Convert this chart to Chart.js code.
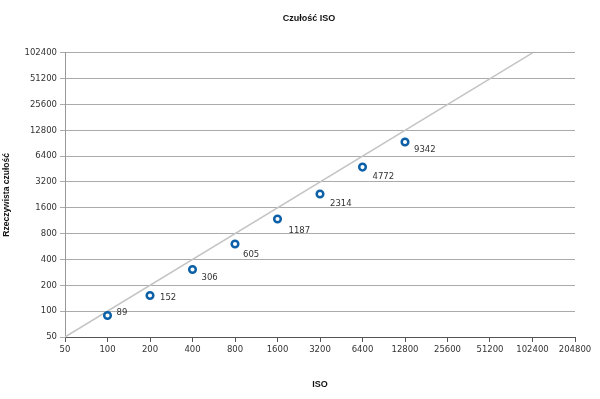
<!DOCTYPE html>
<html>
<head>
<meta charset="utf-8">
<script src="https://cdn.jsdelivr.net/npm/chart.js@4"></script>
<style>
html,body{margin:0;padding:0;background:#fff;}
#wrap{width:600px;height:399px;position:relative;}
</style>
</head>
<body>
<div id="wrap"><canvas id="c" width="600" height="399"></canvas></div>
<script>
const isoValues = [100, 200, 400, 800, 1600, 3200, 6400, 12800];
const realValues = [89, 152, 306, 605, 1187, 2314, 4772, 9342];
const xTicks = [50, 100, 200, 400, 800, 1600, 3200, 6400, 12800, 25600, 51200, 102400, 204800];
const yTicks = [50, 100, 200, 400, 800, 1600, 3200, 6400, 12800, 25600, 51200, 102400];
const refLine = [50, 102400];

const chartTitle = 'Czułość ISO';
const xTitle = 'ISO';
const yTitle = 'Rzeczywista czułość';

const FONT = 'DejaVu Sans';
const TFONT = 'Liberation Sans';

const labelPlugin = {
  id: 'pointLabels',
  afterDatasetsDraw(chart, args, opts) {
    const meta = chart.getDatasetMeta(1);
    const ctx = chart.ctx;
    ctx.save();
    ctx.font = '8.5px "' + FONT + '"';
    ctx.fillStyle = '#333333';
    ctx.textAlign = 'left';
    ctx.textBaseline = 'middle';
    meta.data.forEach((el, i) => {
      const off = opts.offsets[i] || [9, 9];
      ctx.fillText(String(realValues[i]), el.x + off[0], el.y + off[1]);
    });
    ctx.restore();
  }
};

const titleShift = {
  id: 'titleShift',
  afterLayout(chart, args, opts) {
    if (chart.titleBlock) {
      chart.titleBlock.left += opts.shift;
      chart.titleBlock.right += opts.shift;
    }
  }
};

new Chart(document.getElementById('c'), {
  type: 'scatter',
  data: {
    datasets: [
      {
        data: refLine.map(v => ({x: v, y: v})),
        showLine: true,
        borderColor: '#c4c4c4',
        borderWidth: 1.5,
        pointRadius: 0,
        order: 2
      },
      {
        data: isoValues.map((v, i) => ({x: v, y: realValues[i]})),
        showLine: false,
        pointRadius: 3.3,
        pointBorderWidth: 2.5,
        pointBorderColor: '#0b60a8',
        pointBackgroundColor: '#ffffff',
        order: 1
      }
    ]
  },
  options: {
    responsive: false,
    animation: false,
    devicePixelRatio: 1,
    layout: {padding: {left: 0, right: 0, top: 0, bottom: 0}},
    plugins: {
      legend: {display: false},
      tooltip: {enabled: false},
      title: {
        display: true,
        text: chartTitle,
        color: '#111',
        font: {family: TFONT, size: 9, weight: 'bold'},
        padding: {top: 13, bottom: 29}
      },
      titleShift: {shift: 9},
      pointLabels: {
        offsets: [[9, -3], [10, 2], [9, 8], [8, 11], [11, 12], [10, 10], [10, 10], [9, 8]]
      }
    },
    scales: {
      x: {
        type: 'logarithmic',
        min: 50,
        max: 204800,
        afterBuildTicks(scale) { scale.ticks = xTicks.map(v => ({value: v})); },
        afterFit(scale) { scale.height = 62; scale.paddingRight = 25; scale.paddingLeft = 0; },
        ticks: {
          autoSkip: false, maxRotation: 0, minRotation: 0,
          color: '#333', padding: 3,
          font: {family: FONT, size: 8.5},
          callback: (v) => String(v)
        },
        grid: {drawOnChartArea: false, drawTicks: true, tickLength: 5, color: '#555'},
        border: {color: '#555', width: 1},
        title: {
          display: true, text: xTitle, color: '#111',
          font: {family: TFONT, size: 9, weight: 'bold'},
          padding: {top: 0, bottom: 9}
        }
      },
      y: {
        type: 'logarithmic',
        min: 50,
        max: 102400,
        afterBuildTicks(scale) { scale.ticks = yTicks.map(v => ({value: v})); },
        afterFit(scale) { scale.width = 65; },
        ticks: {
          autoSkip: false, color: '#333', padding: 3,
          font: {family: FONT, size: 8.5},
          callback: (v) => String(v)
        },
        grid: {drawOnChartArea: true, drawTicks: true, tickLength: 5, color: '#ababab', lineWidth: 1},
        border: {color: '#999', width: 1},
        title: {
          display: true, text: yTitle, color: '#111',
          font: {family: TFONT, size: 8.5, weight: 'bold'},
          padding: {top: 2, bottom: 0}
        }
      }
    }
  },
  plugins: [labelPlugin, titleShift]
});
</script>
</body>
</html>
